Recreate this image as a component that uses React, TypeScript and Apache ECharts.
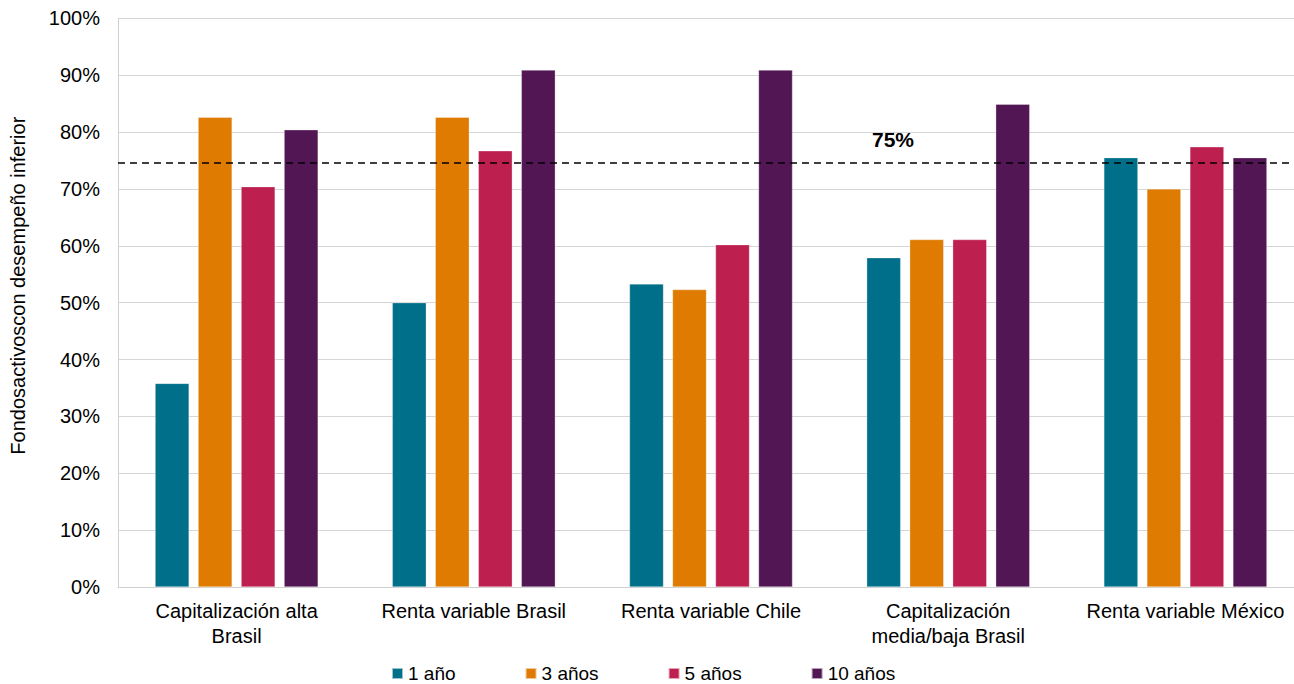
import React, { useEffect, useRef } from "react";
import * as echarts from "echarts";

const categories = [
  "Capitalización alta\nBrasil",
  "Renta variable Brasil",
  "Renta variable Chile",
  "Capitalización\nmedia/baja Brasil",
  "Renta variable México",
];
const seriesNames = ["1 año", "3 años", "5 años", "10 años"];
const values1 = [35.8, 50.0, 53.3, 57.9, 75.5];
const values3 = [82.6, 82.6, 52.3, 61.1, 70.0];
const values5 = [70.4, 76.7, 60.2, 61.1, 77.4];
const values10 = [80.4, 90.9, 90.9, 84.9, 75.5];
const colors = ["#006F89", "#DE7B00", "#BD1F4F", "#521654"];
const thresholdValue = 74.6;
const thresholdLabel = "75%";

export default function App() {
  const ref = useRef<HTMLDivElement>(null);
  useEffect(() => {
    document.body.style.margin = "0";
    const chart = echarts.init(ref.current!, null, { renderer: "svg" });
    const font = "'Liberation Sans', Arial, sans-serif";
    const data = [values1, values3, values5, values10];
    chart.setOption({
      animation: false,
      textStyle: { fontFamily: font },
      grid: { left: 116, right: 0, top: 18.3, bottom: 97 },
      legend: {
        top: 664,
        left: 391,
        padding: 0,
        itemWidth: 11,
        itemHeight: 11,
        itemGap: 69,
        icon: "rect",
        textStyle: { fontSize: 19, color: "#000", fontFamily: font },
        data: seriesNames,
      },
      xAxis: {
        type: "category",
        data: categories,
        axisLine: { lineStyle: { color: "#d0d0d0" } },
        axisTick: { show: false },
        axisLabel: {
          color: "#000",
          fontSize: 20,
          margin: 11,
          lineHeight: 25,
          interval: 0,
          fontFamily: font,
        },
      },
      yAxis: {
        type: "value",
        min: 0,
        max: 100,
        interval: 10,
        name: "Fondosactivoscon desempeño inferior",
        nameLocation: "middle",
        nameGap: 90,
        nameTextStyle: {
          fontSize: 20,
          color: "#000",
          fontFamily: font,
          padding: [0, 0, 0, 34],
        },
        axisLine: { show: true, lineStyle: { color: "#d0d0d0" } },
        axisTick: { show: false },
        axisLabel: {
          formatter: "{value}%",
          color: "#000",
          fontSize: 20,
          margin: 18,
          fontFamily: font,
        },
        splitLine: { lineStyle: { color: "#d6d6d6" } },
      },
      series: seriesNames.map((name, i) => ({
        name,
        type: "bar",
        data: data[i],
        barWidth: 34,
        barGap: "26.5%",
        itemStyle: { color: colors[i], borderColor: "rgba(255,255,255,0.6)", borderWidth: 0.5 },
        markLine:
          i === 0
            ? {
                silent: true,
                symbol: "none",
                label: { show: false },
                lineStyle: { color: "#000", type: [7, 5], width: 1.5 },
                data: [{ yAxis: thresholdValue }],
                z: 10,
              }
            : undefined,
      })),
      graphic: [
        {
          type: "text",
          left: 872,
          top: 129,
          style: {
            text: thresholdLabel,
            fontSize: 21,
            fontWeight: "bold",
            fill: "#000",
            fontFamily: font,
          },
        },
      ],
    });
    return () => chart.dispose();
  }, []);
  return (
    <div style={{ width: 1294, height: 684, overflow: "hidden" }}>
      <div ref={ref} style={{ width: 1304, height: 684 }} />
    </div>
  );
}
